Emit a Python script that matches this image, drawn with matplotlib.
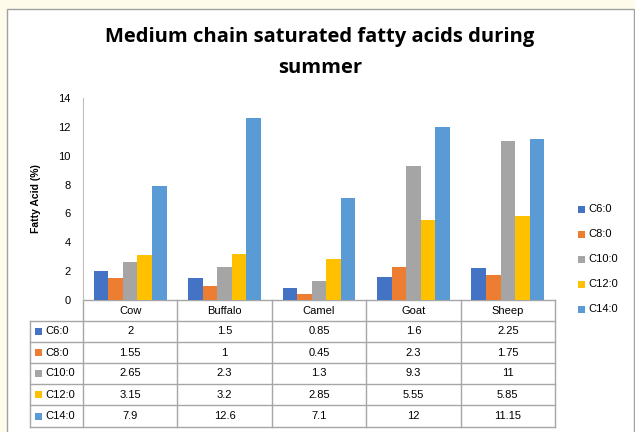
"""Medium chain saturated fatty acids during summer - Excel style bar chart with data table."""
import matplotlib
matplotlib.use('Agg')
import matplotlib.pyplot as plt
from matplotlib.patches import Rectangle
import numpy as np

animals = ['Cow', 'Buffalo', 'Camel', 'Goat', 'Sheep']
acids = ['C6:0', 'C8:0', 'C10:0', 'C12:0', 'C14:0']
c6 = [2, 1.5, 0.85, 1.6, 2.25]
c8 = [1.55, 1, 0.45, 2.3, 1.75]
c10 = [2.65, 2.3, 1.3, 9.3, 11]
c12 = [3.15, 3.2, 2.85, 5.55, 5.85]
c14 = [7.9, 12.6, 7.1, 12, 11.15]
labels_txt = [['2', '1.5', '0.85', '1.6', '2.25'],
              ['1.55', '1', '0.45', '2.3', '1.75'],
              ['2.65', '2.3', '1.3', '9.3', '11'],
              ['3.15', '3.2', '2.85', '5.55', '5.85'],
              ['7.9', '12.6', '7.1', '12', '11.15']]
series = [c6, c8, c10, c12, c14]
colors = ['#4472C4', '#ED7D31', '#A5A5A5', '#FFC000', '#5B9BD5']

W, H = 635, 432
fig = plt.figure(figsize=(W / 100, H / 100), dpi=100)
fig.patch.set_facecolor('#FFFBEA')

# white chart area with grey border
bg = fig.add_axes([0, 0, 1, 1])
bg.set_xlim(0, W)
bg.set_ylim(H, 0)
bg.axis('off')
bg.add_patch(Rectangle((7, 9), 627, H, facecolor='white', edgecolor='#A0A0A0', lw=1.0))

title_font = ['Open Sans', 'DejaVu Sans']
bg.text(320, 37, 'Medium chain saturated fatty acids during', ha='center', va='center',
        fontsize=14.5, fontweight='bold', family=title_font)
bg.text(320, 68, 'summer', ha='center', va='center',
        fontsize=14.5, fontweight='bold', family=title_font)

# plot area (pixel coords: x 83..555, y 98..300)
x0, x1, ytop, ybot = 83, 555, 98, 300
ax = fig.add_axes([x0 / W, 1 - ybot / H, (x1 - x0) / W, (ybot - ytop) / H])
ax.set_facecolor('none')
n = len(animals)
x = np.arange(n)
bw = 0.154
for i, (vals, col) in enumerate(zip(series, colors)):
    ax.bar(x + (i - 2) * bw, vals, width=bw, color=col, zorder=2)
ax.set_xlim(-0.5, n - 0.5)
ax.set_ylim(0, 14)
ax.set_yticks(range(0, 15, 2))
ax.tick_params(axis='y', labelsize=8, length=0, pad=9)
ax.set_xticks([])
for s in ['top', 'right', 'bottom']:
    ax.spines[s].set_visible(False)
ax.spines['left'].set_color('#BFBFBF')
for lbl in ax.get_yticklabels():
    lbl.set_family('Liberation Sans')
ax.set_ylabel('Fatty Acid (%)', fontsize=7.5, fontweight='bold', family='Liberation Sans',
              labelpad=12)

# data table below the plot
line_c = '#A6A6A6'
col_edges = [x0 + (x1 - x0) * k / n for k in range(n + 1)]
row_edges = [300, 321, 342, 363, 384, 405, 427]
lx = 30
bg.plot([x0, x1], [row_edges[0]] * 2, color=line_c, lw=1)
for r in row_edges[1:]:
    bg.plot([lx, x1], [r, r], color=line_c, lw=1)
bg.plot([lx, lx], [row_edges[1], row_edges[-1]], color=line_c, lw=1)
for cx in col_edges:
    bg.plot([cx, cx], [row_edges[0], row_edges[-1]], color=line_c, lw=1)

tfont = 'Liberation Sans'
for k, a in enumerate(animals):
    cx = (col_edges[k] + col_edges[k + 1]) / 2
    bg.text(cx, (row_edges[0] + row_edges[1]) / 2, a, ha='center', va='center',
            fontsize=8, family=tfont)
for r, (name, col) in enumerate(zip(acids, colors)):
    cy = (row_edges[r + 1] + row_edges[r + 2]) / 2
    bg.add_patch(Rectangle((35, cy - 3.5), 7, 7, facecolor=col, edgecolor='none'))
    bg.text(45, cy, name, ha='left', va='center', fontsize=8, family=tfont)
    for k in range(n):
        cx = (col_edges[k] + col_edges[k + 1]) / 2
        bg.text(cx, cy, labels_txt[r][k], ha='center', va='center', fontsize=8, family=tfont)

# legend at right
for r, (name, col) in enumerate(zip(acids, colors)):
    ly = 209 + r * 25
    bg.add_patch(Rectangle((578, ly - 3.5), 7, 7, facecolor=col, edgecolor='none'))
    bg.text(588, ly, name, ha='left', va='center', fontsize=8, family=tfont)

fig.savefig('out.png', dpi=100, facecolor=fig.get_facecolor())
